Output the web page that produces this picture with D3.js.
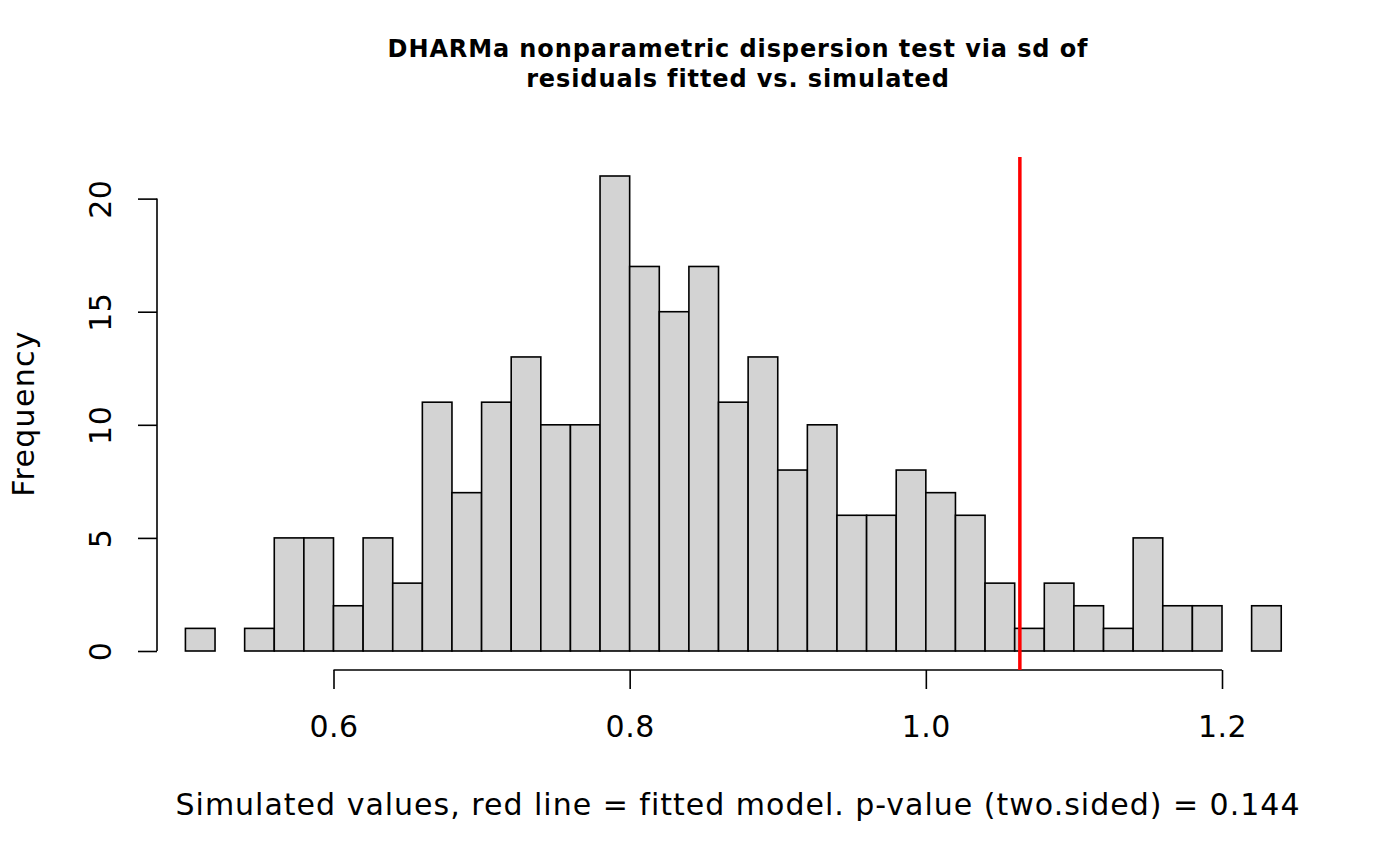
<!DOCTYPE html>
<html>
<head>
<meta charset="utf-8">
<script src="https://cdn.jsdelivr.net/npm/d3@7.9.0/dist/d3.min.js"></script>
<style>
  html, body { margin: 0; padding: 0; background: #fff; }
  svg { display: block; font-family: "DejaVu Sans", sans-serif; }
</style>
</head>
<body>
<div id="chart"></div>
<script>
// histogram breaks (lower edges) and counts per bin
const binLower = [0.50, 0.52, 0.54, 0.56, 0.58, 0.60, 0.62, 0.64, 0.66, 0.68,
                  0.70, 0.72, 0.74, 0.76, 0.78, 0.80, 0.82, 0.84, 0.86, 0.88,
                  0.90, 0.92, 0.94, 0.96, 0.98, 1.00, 1.02, 1.04, 1.06, 1.08,
                  1.10, 1.12, 1.14, 1.16, 1.18, 1.20, 1.22];
const binWidth = 0.02;
const counts = [1, 0, 1, 5, 5, 2, 5, 3, 11, 7,
                11, 13, 10, 10, 21, 17, 15, 17, 11, 13,
                8, 10, 6, 6, 8, 7, 6, 3, 1, 3,
                2, 1, 5, 2, 2, 0, 2];
const observed = 1.0635;           // red line: fitted model
const xTicks = [0.6, 0.8, 1.0, 1.2];
const yTicks = [0, 5, 10, 15, 20];
const titleLines = ["DHARMa nonparametric dispersion test via sd of",
                    "residuals fitted vs. simulated"];
const xLabel = "Simulated values, red line = fitted model. p-value (two.sided) = 0.144";
const yLabel = "Frequency";

const W = 1400, H = 866;
// plot region (R style, usr with 4% padding)
const plot = { left: 157, right: 1319, top: 157, bottom: 670 };

const svg = d3.select("#chart").append("svg")
  .attr("width", W).attr("height", H);

// x: 0.6 -> 333.5, 1.2 -> 1222
const x = d3.scaleLinear().domain([0.6, 1.2]).range([333.5, 1222]);
const y = d3.scaleLinear().domain([-0.84, 21.84]).range([plot.bottom, plot.top]);

const bins = binLower.map((x0, i) => ({ x0, x1: x0 + binWidth, n: counts[i] }));

// bars
svg.append("g")
  .selectAll("rect")
  .data(bins)
  .join("rect")
    .attr("x", d => x(d.x0))
    .attr("y", d => y(d.n))
    .attr("width", d => x(d.x1) - x(d.x0))
    .attr("height", d => y(0) - y(d.n))
    .attr("fill", "#d3d3d3")
    .attr("stroke", "#000")
    .attr("stroke-width", 1.6);

// x axis (line only spans the ticks, like base R)
const gx = svg.append("g")
  .attr("transform", `translate(0,${plot.bottom})`)
  .call(d3.axisBottom(x).tickValues(xTicks).tickSize(19)
    .tickFormat(d3.format(".1f")));
gx.select(".domain").remove();
gx.append("line")
  .attr("x1", x(xTicks[0])).attr("x2", x(xTicks[xTicks.length - 1]))
  .attr("stroke", "#000").attr("stroke-width", 1.6);
gx.selectAll(".tick line").attr("stroke-width", 1.6);
gx.selectAll(".tick text")
  .attr("font-size", 30).attr("font-family", "DejaVu Sans").attr("fill", "#000")
  .attr("letter-spacing", 0.5)
  .attr("y", 67).attr("dy", 0);

// y axis
const gy = svg.append("g")
  .attr("transform", `translate(${plot.left},0)`)
  .call(d3.axisLeft(y).tickValues(yTicks).tickSize(19).tickFormat(d3.format("d")));
gy.select(".domain").remove();
gy.append("line")
  .attr("y1", y(yTicks[0])).attr("y2", y(yTicks[yTicks.length - 1]))
  .attr("stroke", "#000").attr("stroke-width", 1.6);
gy.selectAll(".tick line").attr("stroke-width", 1.6);
gy.selectAll(".tick text")
  .attr("font-size", 30).attr("font-family", "DejaVu Sans").attr("fill", "#000")
  .attr("letter-spacing", 0.5)
  .attr("text-anchor", "middle")
  .attr("dy", 0)
  .attr("x", 0)
  .attr("transform", "translate(-46.5,0) rotate(-90)");

// red line for observed value
svg.append("line")
  .attr("x1", x(observed)).attr("x2", x(observed))
  .attr("y1", plot.top).attr("y2", plot.bottom)
  .attr("stroke", "#ff0000").attr("stroke-width", 3.5);

// title
const cx = (plot.left + plot.right) / 2;
svg.append("g").selectAll("text")
  .data(titleLines)
  .join("text")
    .attr("x", cx)
    .attr("y", (d, i) => 57 + i * 30)
    .attr("text-anchor", "middle")
    .attr("font-weight", "bold")
    .attr("font-size", 24)
    .attr("letter-spacing", 0.9)
    .text(d => d);

// axis labels
svg.append("text")
  .attr("x", cx).attr("y", 815)
  .attr("text-anchor", "middle")
  .attr("font-size", 30)
  .attr("letter-spacing", 1)
  .text(xLabel);

svg.append("text")
  .attr("transform", `translate(34,${(plot.top + plot.bottom) / 2}) rotate(-90)`)
  .attr("text-anchor", "middle")
  .attr("font-size", 30)
  .attr("letter-spacing", 1.3)
  .text(yLabel);
</script>
</body>
</html>
